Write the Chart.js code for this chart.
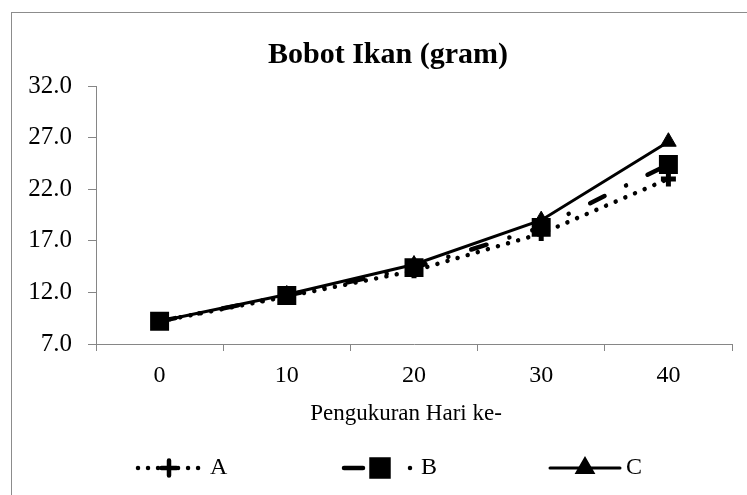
<!DOCTYPE html>
<html>
<head>
<meta charset="utf-8">
<script src="https://cdn.jsdelivr.net/npm/chart.js@4/dist/chart.umd.min.js"></script>
<style>
  html, body { margin: 0; padding: 0; background: #ffffff; }
  #wrap { width: 747px; height: 495px; }
</style>
</head>
<body>
<div id="wrap"><canvas id="chart" width="747" height="495"></canvas></div>
<script>
// Fish weight (gram) per measurement day
const days = ['0', '10', '20', '30', '40'];
const seriesA = [9.2, 11.6, 14.1, 17.7, 23.0];
const seriesB = [9.2, 11.7, 14.4, 18.3, 24.4];
const seriesC = [9.2, 11.8, 14.7, 19.0, 26.6];
const seriesNames = ['A', 'B', 'C'];
const yTicks = { min: 7, max: 32, step: 5 };

const SERIF = '"Liberation Serif", "Times New Roman", serif';
const AXIS_GREY = '#868686';

// white page with the outer frame
const framePlugin = {
  id: 'frame',
  beforeDraw(chart) {
    const ctx = chart.ctx;
    ctx.save();
    ctx.fillStyle = '#ffffff';
    ctx.fillRect(0, 0, chart.width, chart.height);
    ctx.strokeStyle = '#8c8c8c';
    ctx.lineWidth = 1;
    ctx.strokeRect(11.5, 12.5, chart.width + 20, chart.height + 20);
    ctx.restore();
  }
};

// chart heading and horizontal axis caption
const headingPlugin = {
  id: 'heading',
  afterDraw(chart) {
    const ctx = chart.ctx;
    ctx.save();
    ctx.fillStyle = '#000';
    ctx.textAlign = 'center';
    ctx.textBaseline = 'middle';
    ctx.font = 'bold 30px ' + SERIF;
    ctx.fillText('Bobot Ikan (gram)', 388, 55);
    ctx.font = '23px ' + SERIF;
    ctx.fillText('Pengukuran Hari ke-', 406, 414);
    ctx.restore();
  }
};

// legend row: line sample with marker, then the series name
const legendPlugin = {
  id: 'sampleLegend',
  afterDraw(chart) {
    const ctx = chart.ctx;
    const y = 468;
    const centres = [169, 380, 585];
    const half = [31, 0, 35];
    chart.data.datasets.forEach((ds, i) => {
      const cx = centres[i];
      ctx.save();
      ctx.strokeStyle = '#000';
      ctx.fillStyle = '#000';
      ctx.lineCap = 'round';
      ctx.lineWidth = ds.borderWidth;
      if (i === 1) {
        // dash, marker, dot
        ctx.beginPath();
        ctx.moveTo(cx - 36, y); ctx.lineTo(cx - 17, y);
        ctx.stroke();
        ctx.beginPath();
        ctx.arc(cx + 30, y, ds.borderWidth / 2, 0, Math.PI * 2);
        ctx.fill();
      } else {
        ctx.setLineDash(i === 0 ? [0.01, 10] : []);
        ctx.beginPath();
        ctx.moveTo(cx - half[i], y); ctx.lineTo(cx + half[i], y);
        ctx.stroke();
      }
      ctx.setLineDash([]);
      Chart.helpers.drawPoint(ctx, {
        pointStyle: ds.pointStyle,
        radius: ds.pointRadius,
        borderWidth: ds.pointBorderWidth,
        rotation: 0
      }, cx, y);
      ctx.lineCap = 'butt';
      ctx.font = '24px ' + SERIF;
      ctx.textAlign = 'left';
      ctx.textBaseline = 'middle';
      ctx.fillText(ds.label, cx + 41, y);
      ctx.restore();
    });
  }
};

new Chart(document.getElementById('chart'), {
  type: 'line',
  data: {
    labels: days,
    datasets: [
      {
        label: seriesNames[0],
        data: seriesA,
        borderColor: '#000', backgroundColor: '#000',
        borderWidth: 4.5, borderDash: [0.01, 10.5], borderCapStyle: 'round',
        pointStyle: 'cross', pointRadius: 7.5, pointBorderWidth: 5,
        pointBorderColor: '#000', pointBackgroundColor: '#000'
      },
      {
        label: seriesNames[1],
        data: seriesB,
        borderColor: '#000', backgroundColor: '#000',
        borderWidth: 4.5, borderDash: [16, 24, 0.01, 24], borderCapStyle: 'round',
        pointStyle: 'rect', pointRadius: 12, pointBorderWidth: 2,
        pointBorderColor: '#000', pointBackgroundColor: '#000'
      },
      {
        label: seriesNames[2],
        data: seriesC,
        borderColor: '#000', backgroundColor: '#000',
        borderWidth: 3,
        pointStyle: 'triangle', pointRadius: 9, pointBorderWidth: 1,
        pointBorderColor: '#000', pointBackgroundColor: '#000'
      }
    ]
  },
  options: {
    responsive: false,
    animation: false,
    devicePixelRatio: 1,
    layout: { padding: { left: 11, right: 15, top: 86, bottom: 67 } },
    plugins: {
      legend: { display: false },
      title: { display: false },
      tooltip: { enabled: false }
    },
    elements: { line: { tension: 0 } },
    scales: {
      x: {
        type: 'category',
        offset: true,
        afterFit(scale) { scale.height = 84; },
        grid: { offset: true, drawOnChartArea: false, drawTicks: true, tickLength: 7, color: AXIS_GREY },
        border: { color: AXIS_GREY, width: 1 },
        ticks: { color: '#000', font: { family: SERIF, size: 24 }, padding: 10 }
      },
      y: {
        min: yTicks.min, max: yTicks.max,
        afterFit(scale) { scale.width = 85; },
        grid: { drawOnChartArea: false, drawTicks: true, tickLength: 8, color: AXIS_GREY },
        border: { color: AXIS_GREY, width: 1 },
        ticks: {
          stepSize: yTicks.step, color: '#000', padding: 16,
          font: { family: SERIF, size: 25 },
          callback: v => Number(v).toFixed(1)
        }
      }
    }
  },
  plugins: [framePlugin, headingPlugin, legendPlugin]
});
</script>
</body>
</html>
